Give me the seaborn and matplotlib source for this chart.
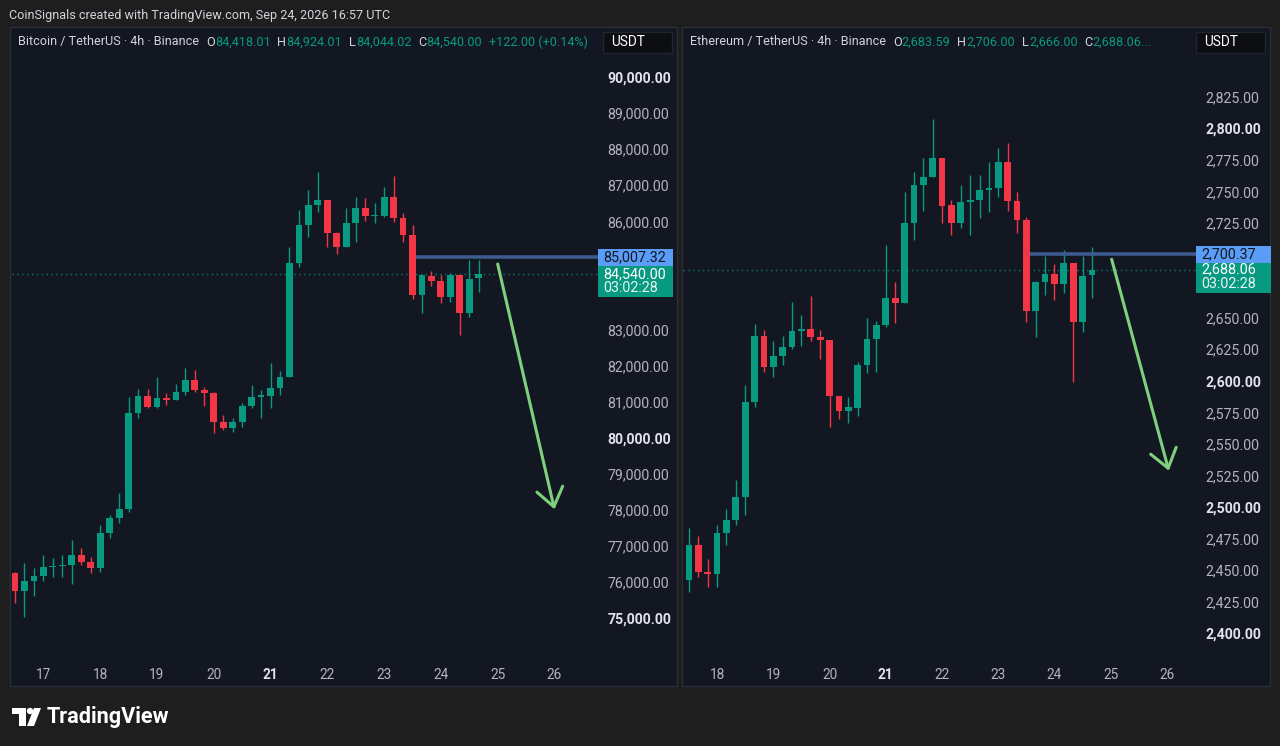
import numpy as np
import pandas as pd
import seaborn as sns
import matplotlib.pyplot as plt
from matplotlib.patches import Rectangle, Polygon, Circle
from matplotlib.transforms import IdentityTransform

# ===== Dados (4h, Binance) =====
btc_start = "2026-09-16 12:00"
btc_open = [76240, 75760, 76040, 76180, 76410, 76440, 76470, 76750, 76560, 76380,
            77350, 77780, 78030, 80700, 81160, 80840, 81110, 81060, 81260, 81600,
            81320, 81230, 80450, 80280, 80450, 80880, 81140, 81160, 81390, 81690,
            84850, 85900, 86450, 86590, 85670, 85300, 85960, 86380, 86150, 86160,
            86680, 86080, 85620, 83960, 84480, 84350, 83890, 84510, 83450, 84418.01]
btc_high = [76290, 76540, 76380, 76750, 76660, 76750, 77170, 76940, 76700, 77580,
            77860, 78460, 81120, 81340, 81340, 81690, 81230, 81490, 81920, 81880,
            81420, 81280, 80630, 80540, 80950, 81460, 81320, 82080, 81860, 85280,
            86310, 86870, 87380, 86590, 85710, 86360, 86680, 86640, 86500, 86960,
            87260, 86240, 85900, 84510, 84630, 84510, 84580, 84510, 84930, 84924.01]
btc_low = [75410, 75040, 75610, 76040, 76150, 76150, 75960, 76470, 76240, 76290,
           77210, 77630, 77950, 80540, 80820, 80820, 80910, 81050, 81190, 81280,
           80880, 80120, 80220, 80170, 80310, 80820, 80540, 80820, 81190, 81690,
           84740, 85570, 86270, 85280, 85090, 85280, 85440, 86020, 85960, 86130,
           85990, 85440, 83840, 83470, 84210, 83730, 83770, 82850, 83340, 84044.02]
btc_close = [75760, 76040, 76180, 76410, 76440, 76470, 76750, 76560, 76380, 77350,
             77780, 78030, 80700, 81160, 80840, 81110, 81060, 81260, 81600, 81320,
             81230, 80450, 80280, 80450, 80880, 81140, 81160, 81390, 81690, 84850,
             85900, 86450, 86590, 85670, 85300, 85960, 86380, 86150, 86160, 86680,
             86080, 85620, 83960, 84510, 84350, 83890, 84510, 83450, 84390, 84540.00]

eth_start = "2026-09-17 12:00"
eth_open = [2442.0, 2469.8, 2448.6, 2446.8, 2479.0, 2489.6, 2507.6, 2583.4, 2635.5, 2611.2,
            2619.6, 2626.5, 2639.7, 2640.8, 2634.4, 2632.3, 2587.9, 2576.3, 2578.8, 2612.5,
            2632.8, 2644.2, 2665.4, 2661.4, 2724.8, 2755.2, 2761.3, 2776.4, 2739.4, 2725.3,
            2742.0, 2743.3, 2751.2, 2752.6, 2773.7, 2742.5, 2727.5, 2655.6, 2678.6, 2684.6,
            2676.5, 2693.1, 2646.9, 2683.59]
eth_high = [2483.0, 2476.9, 2458.4, 2485.6, 2498.1, 2521.3, 2596.6, 2645.0, 2640.2, 2631.8,
            2635.5, 2662.7, 2652.1, 2667.2, 2640.2, 2632.3, 2587.9, 2586.9, 2615.1, 2649.5,
            2647.6, 2707.6, 2678.6, 2749.9, 2765.8, 2776.4, 2807.3, 2776.4, 2743.3, 2755.2,
            2763.2, 2763.2, 2773.7, 2784.3, 2788.8, 2749.9, 2729.6, 2679.4, 2698.9, 2692.6,
            2703.7, 2693.6, 2698.9, 2706.00]
eth_low = [2432.8, 2444.7, 2436.2, 2436.2, 2469.8, 2485.6, 2493.6, 2579.5, 2607.2, 2602.7,
           2612.5, 2624.9, 2627.6, 2631.8, 2617.0, 2563.6, 2569.4, 2566.8, 2572.1, 2605.9,
           2607.2, 2642.9, 2646.1, 2661.4, 2711.6, 2734.9, 2761.3, 2725.3, 2715.6, 2720.9,
           2715.6, 2728.8, 2734.1, 2745.4, 2734.9, 2716.9, 2646.9, 2635.0, 2668.0, 2664.0,
           2669.3, 2599.3, 2638.9, 2666.00]
eth_close = [2469.8, 2448.6, 2446.8, 2479.0, 2489.6, 2507.6, 2583.4, 2635.5, 2611.2, 2619.6,
             2626.5, 2639.7, 2640.2, 2634.4, 2632.3, 2587.9, 2576.3, 2579.0, 2612.5, 2632.8,
             2644.2, 2665.4, 2661.4, 2724.8, 2755.2, 2761.3, 2776.4, 2738.6, 2725.3, 2742.0,
             2743.3, 2751.2, 2752.6, 2773.7, 2742.5, 2727.5, 2655.6, 2678.6, 2684.6, 2676.5,
             2693.1, 2646.9, 2683.3, 2688.06]

btc_days = ["17", "18", "19", "20", "21", "22", "23", "24", "25", "26"]
eth_days = ["18", "19", "20", "21", "22", "23", "24", "25", "26"]

btc_level, eth_level = 85007.32, 2700.37
btc_last, eth_last = 84540.00, 2688.06
countdown = "03:02:28"

# linha horizontal começa no candle de quebra; seta desenhada à mão
btc_level_from, eth_level_from = 42, 36
btc_arrow = ((51.0, 84816), (57.0, 78017))
eth_arrow = ((45.1, 2696.3), (51.2, 2528.7))

btc_header = [("Bitcoin / TetherUS · 4h · Binance", "t", 7),
              ("O", "t", 0), ("84,418.01", "g", 7), ("H", "t", 0), ("84,924.01", "g", 7),
              ("L", "t", 0), ("84,044.02", "g", 7), ("C", "t", 0), ("84,540.00", "g", 7),
              ("+122.00 (+0.14%)", "g", 0)]
eth_header = [("Ethereum / TetherUS · 4h · Binance", "t", 7),
              ("O", "t", 0), ("2,683.59", "g", 7), ("H", "t", 0), ("2,706.00", "g", 7),
              ("L", "t", 0), ("2,666.00", "g", 7), ("C", "t", 0), ("2,688.06...", "g", 0)]

# ===== Estilo =====
FIG_BG = "#1e1e1e"
PANEL = "#131722"
GREEN = "#089981"
RED = "#f23645"
TXT = "#b2b5be"
HEAD = "#d1d4dc"
LEVEL = "#3c5a8c"
ARROW = "#7fd07c"

sns.set_theme(style="dark", rc={"axes.facecolor": PANEL, "figure.facecolor": FIG_BG,
                                "savefig.facecolor": FIG_BG})
plt.rcParams['font.family'] = ['Roboto', 'DejaVu Sans']

W, H = 1280, 746
fig = plt.figure(figsize=(12.8, 7.46), dpi=100)


def frac(x0, y0, x1, y1):
    return [x0 / W, 1 - y1 / H, (x1 - x0) / W, (y1 - y0) / H]


def box(x0, y0, x1, y1, fc, ec="none", z=1):
    fig.patches.append(Rectangle((x0, H - y1), x1 - x0, y1 - y0, facecolor=fc, edgecolor=ec,
                                 lw=1, transform=IdentityTransform(), zorder=z))


def make_df(start, o, h, l, c):
    idx = pd.date_range(start, periods=len(o), freq="4h")
    return pd.DataFrame({"open": o, "high": h, "low": l, "close": c}, index=idx)


def candles(ax, df, min_body):
    x = np.arange(len(df))
    up = (df["close"] >= df["open"]).values
    cols = np.where(up, GREEN, RED)
    ax.vlines(x, df["low"], df["high"], colors=cols, linewidth=1, zorder=2)
    body = np.maximum((df["close"] - df["open"]).abs().values, min_body)
    ax.bar(x, body, bottom=df[["open", "close"]].min(axis=1).values, width=0.72,
           color=cols, linewidth=0, zorder=3)


def header(x, y, parts):
    r = fig.canvas.get_renderer()
    for txt, kind, gap in parts:
        t = fig.text(x / W, 1 - y / H, txt, color=GREEN if kind == "g" else HEAD,
                     fontsize=9.1, va="center", ha="left", zorder=6)
        bb = t.get_window_extent(r)
        x = bb.x1 + gap


def panel(rect, axrect, df, start, days, ylim, xlim, ticks, major, level, level_from,
          last, arrow, parts, fmt, min_body):
    box(*rect, fc=PANEL, ec="#2a2e39", z=-1)
    ax = fig.add_axes(frac(*axrect))
    ax.set_facecolor(PANEL)
    candles(ax, df, min_body)
    ax.set_xlim(*xlim)
    ax.set_ylim(*ylim)
    ax.grid(False)
    for s in ax.spines.values():
        s.set_visible(False)

    # eixo de datas
    pos = [(pd.Timestamp(f"2026-09-{d}") - pd.Timestamp(start)) / pd.Timedelta("4h") for d in days]
    ax.set_xticks(pos, days)
    ax.tick_params(axis="x", length=0, pad=7, labelsize=9.8, colors=TXT)
    for lab in ax.get_xticklabels():
        if lab.get_text() == "21":
            lab.set_fontweight("bold")
            lab.set_color("#e0e3eb")

    # eixo de preço (rótulos escondidos sob as etiquetas)
    fig.canvas.draw()
    yl = H - ax.transData.transform((0, level))[1]
    yc = H - ax.transData.transform((0, last))[1]
    top, bot = yl - 12, yc + 30
    labels = []
    for v in ticks:
        yv = H - ax.transData.transform((0, v))[1]
        labels.append("" if top < yv < bot else fmt(v))
    ax.yaxis.tick_right()
    ax.set_yticks(ticks, labels)
    ax.tick_params(axis="y", length=0, pad=7, labelsize=10.2, colors=TXT)
    for v, lab in zip(ticks, ax.get_yticklabels()):
        if v % major == 0:
            lab.set_fontweight("bold")
            lab.set_color("#e0e3eb")

    ax.axhline(last, color=GREEN, lw=1, ls=(0, (1, 2.5)), alpha=0.8, zorder=1)
    ax.hlines(level, level_from + 0.36, xlim[1], color=LEVEL, lw=2.6, zorder=4)
    ax.annotate("", xy=arrow[1], xytext=arrow[0],
                arrowprops=dict(arrowstyle="->,head_length=1.3,head_width=0.95",
                                color=ARROW, lw=2.2, mutation_scale=10,
                                shrinkA=0, shrinkB=0))

    # etiquetas na escala de preço
    x0 = axrect[2]
    box(x0, yc - 8, x0 + 75, yc + 23, fc=GREEN, z=5)
    box(x0, yl - 8.5, x0 + 75, yl + 8.5, fc="#5b9cf6", z=5)
    fig.text((x0 + 5) / W, 1 - yl / H, fmt(level), color="#131722", fontsize=10.4,
             va="center", zorder=7)
    fig.text((x0 + 5) / W, 1 - yc / H, fmt(last), color="white", fontsize=10.4,
             va="center", zorder=7)
    fig.text((x0 + 5) / W, 1 - (yc + 14.5) / H, countdown, color="#e6f4f1", fontsize=10.4,
             va="center", zorder=7)

    # cabeçalho + USDT
    header(rect[0] + 8, 42, parts)
    box(rect[2] - 74, 32, rect[2] - 5, 53, fc="#0d0e12", ec="#22252d", z=5)
    fig.text((rect[2] - 66) / W, 1 - 42.5 / H, "USDT", color="white", fontsize=9.8,
             va="center", zorder=7)
    return ax


btc = make_df(btc_start, btc_open, btc_high, btc_low, btc_close)
eth = make_df(eth_start, eth_open, eth_high, eth_low, eth_close)

panel((10, 27, 677, 686), (12, 30, 598, 658), btc, btc_start, btc_days,
      (73895, 91303), (-0.32, 61.6), np.arange(75000, 90001, 1000), 5000,
      btc_level, btc_level_from, btc_last, btc_arrow, btc_header,
      lambda v: f"{v:,.2f}", 35)
panel((682, 27, 1270, 686), (683, 30, 1196, 658), eth, eth_start, eth_days,
      (2380.2, 2878.1), (-0.64, 54.1), np.arange(2400, 2826, 25), 100,
      eth_level, eth_level_from, eth_last, eth_arrow, eth_header,
      lambda v: f"{v:,.2f}", 1)

# topo e marca
fig.text(9 / W, 1 - 15 / H, "CoinSignals created with TradingView.com, Sep 24, 2026 16:57 UTC",
         color=HEAD, fontsize=9.1, va="center")
fig.patches.append(Polygon([(12, H - 708), (26, H - 708), (26, H - 726), (19, H - 726),
                            (19, H - 714), (12, H - 714)], closed=True, fc="white", ec="none",
                           transform=IdentityTransform()))
fig.patches.append(Circle((30, H - 711), 3.2, fc="white", ec="none", transform=IdentityTransform()))
fig.patches.append(Polygon([(34, H - 708), (41, H - 708), (34, H - 726), (27, H - 726)],
                           closed=True, fc="white", ec="none", transform=IdentityTransform()))
fig.text(47 / W, 1 - 717 / H, "TradingView", color="white", fontsize=15.6,
         fontweight="bold", va="center")

plt.savefig("out.png", dpi=100)
plt.close()
